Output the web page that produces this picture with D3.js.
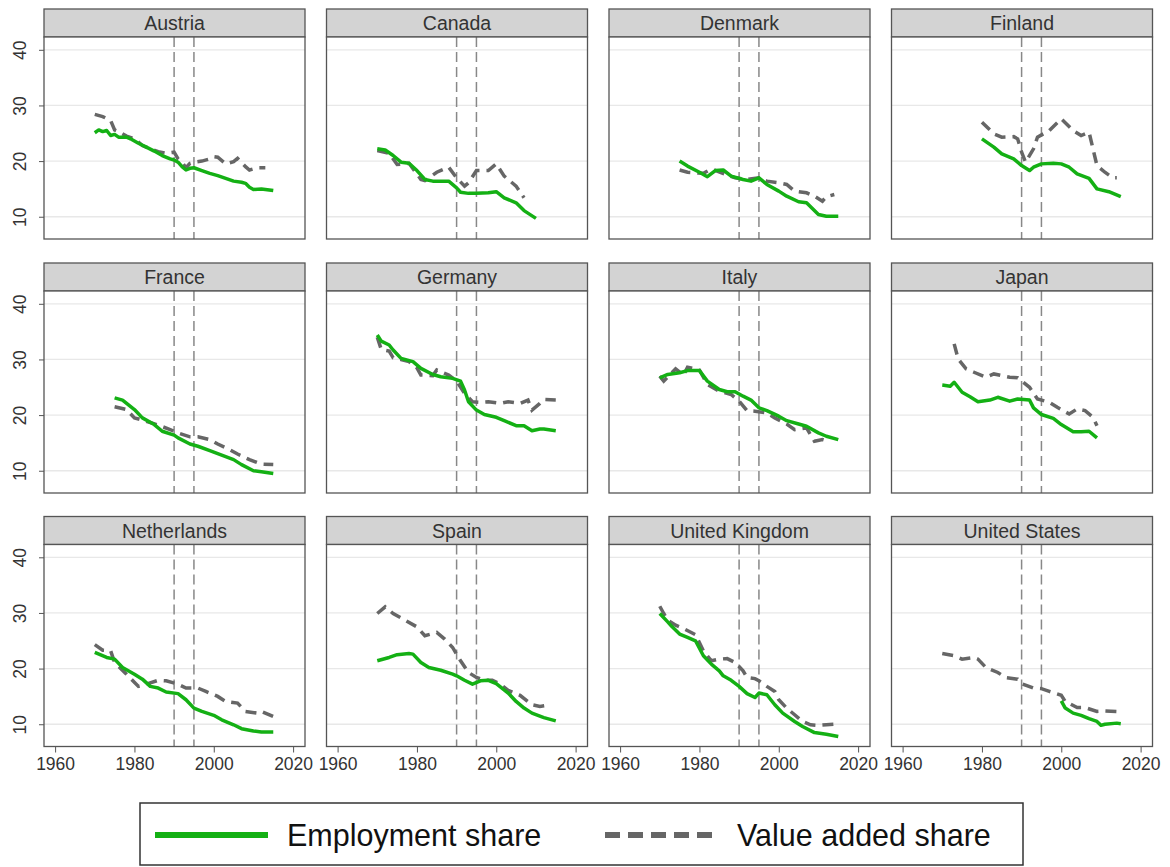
<!DOCTYPE html>
<html>
<head>
<meta charset="utf-8">
<script src="https://cdn.jsdelivr.net/npm/d3@7"></script>
<style>
  body { margin: 0; background: white; }
  text { font-family: "Liberation Sans", Arial, sans-serif; }
</style>
</head>
<body>
<div id="chart"></div>
<script>
var width = 1170,
    height = 867;

// country panels, in order
var countries = ["Austria", "Canada", "Denmark", "Finland", "France", "Germany", "Italy", "Japan",
                 "Netherlands", "Spain", "United Kingdom", "United States"];

var yTicks = [10, 20, 30, 40];
var xTicks = [1960, 1980, 2000, 2020];
var refYears = [1990, 1995];

// [year, share]
var austriaEmp = [[1970,25.1],[1971,25.6],[1972,25.3],[1973,25.5],[1974,24.6],[1975,24.8],[1976,24.3],[1978,24.3],[1979,24.0],[1981,23.2],[1983,22.5],[1985,21.8],[1987,21.0],[1989,20.4],[1990,20.2],[1991,19.8],[1992,19.0],[1993,18.4],[1994,18.7],[1995,18.8],[1997,18.3],[1999,17.8],[2001,17.4],[2003,16.9],[2005,16.4],[2007,16.2],[2008,16.0],[2009,15.3],[2010,14.9],[2012,15.0],[2014,14.8],[2015,14.7]];
var austriaVa = [[1970,28.4],[1972,28.0],[1974,27.3],[1975,25.6],[1976,25.3],[1978,24.5],[1980,24.0],[1982,22.8],[1984,22.2],[1986,21.7],[1988,21.4],[1990,21.6],[1991,20.4],[1992,19.8],[1993,18.8],[1994,19.6],[1995,19.8],[1997,20.0],[1999,20.4],[2000,20.8],[2001,20.7],[2003,19.5],[2005,19.9],[2006,20.5],[2008,19.0],[2009,18.4],[2011,18.8],[2013,18.8]];

var canadaEmp = [[1970,22.2],[1972,22.0],[1974,21.0],[1976,19.8],[1978,19.6],[1980,18.3],[1982,16.7],[1984,16.4],[1988,16.4],[1990,15.2],[1991,14.4],[1993,14.2],[1995,14.2],[1998,14.3],[2000,14.5],[2002,13.4],[2005,12.5],[2007,11.1],[2010,9.7]];
var canadaVa = [[1970,21.9],[1973,21.4],[1975,19.4],[1978,19.6],[1981,16.7],[1982,16.5],[1985,18.0],[1988,18.9],[1990,17.0],[1992,15.5],[1993,16.1],[1995,18.3],[1998,18.3],[2000,19.5],[2002,17.3],[2005,15.5],[2007,13.4]];

var denmarkEmp = [[1975,20.0],[1977,19.1],[1980,18.0],[1982,17.2],[1984,18.3],[1986,18.4],[1988,17.3],[1991,16.7],[1993,16.4],[1995,17.0],[1997,15.8],[2000,14.6],[2002,13.7],[2005,12.7],[2007,12.5],[2010,10.4],[2012,10.1],[2015,10.1]];
var denmarkVa = [[1975,18.4],[1977,18.0],[1981,17.8],[1983,18.6],[1987,17.5],[1989,17.0],[1992,16.7],[1995,17.0],[1997,16.4],[2000,16.1],[2002,15.8],[2004,14.6],[2007,14.3],[2009,13.7],[2011,12.8],[2012,13.6],[2014,14.0]];

var finlandEmp = [[1980,24.0],[1983,22.5],[1985,21.3],[1988,20.4],[1990,19.2],[1992,18.3],[1993,18.9],[1995,19.5],[1998,19.6],[2000,19.5],[2002,18.9],[2004,17.7],[2007,16.9],[2009,15.0],[2012,14.5],[2015,13.6]];
var finlandVa = [[1980,27.0],[1983,24.9],[1985,24.3],[1988,24.4],[1989,24.0],[1990,21.6],[1991,19.8],[1993,22.2],[1994,24.3],[1997,25.5],[2000,27.6],[2003,25.5],[2005,24.6],[2007,25.2],[2008,22.2],[2009,19.2],[2011,18.0],[2013,17.0],[2014,17.0]];

var franceEmp = [[1975,23.1],[1977,22.7],[1980,21.0],[1982,19.5],[1985,18.3],[1987,17.1],[1990,16.4],[1991,15.9],[1994,14.8],[1996,14.4],[1999,13.6],[2002,12.8],[2005,12.0],[2007,11.1],[2010,10.0],[2012,9.8],[2015,9.5]];
var franceVa = [[1975,21.5],[1978,21.0],[1980,19.5],[1983,18.9],[1986,18.2],[1989,17.4],[1991,16.8],[1994,16.1],[1996,16.1],[1999,15.6],[2001,14.8],[2004,13.8],[2006,13.0],[2009,12.0],[2012,11.2],[2015,11.1]];

var germanyEmp = [[1970,34.4],[1971,33.3],[1973,32.6],[1974,31.7],[1976,30.2],[1979,29.6],[1981,28.4],[1984,27.3],[1986,26.9],[1989,26.6],[1991,26.1],[1992,24.5],[1993,22.4],[1995,20.9],[1997,20.1],[2000,19.6],[2002,19.0],[2005,18.1],[2007,18.1],[2009,17.2],[2011,17.5],[2012,17.5],[2015,17.2]];
var germanyVa = [[1970,34.0],[1971,31.8],[1973,31.5],[1974,30.3],[1976,30.0],[1978,29.6],[1980,28.5],[1981,27.2],[1984,27.1],[1985,28.1],[1988,27.2],[1990,26.1],[1992,23.9],[1994,22.4],[1996,22.3],[1998,22.4],[2001,22.1],[2003,22.4],[2006,22.1],[2008,22.7],[2009,20.9],[2011,22.1],[2012,22.8],[2015,22.7]];

var italyEmp = [[1970,26.7],[1972,27.3],[1975,27.6],[1977,28.0],[1980,28.0],[1982,26.1],[1985,24.6],[1987,24.2],[1989,24.2],[1991,23.4],[1993,22.7],[1995,21.3],[1997,20.8],[2000,19.8],[2002,19.0],[2005,18.4],[2007,18.0],[2010,16.8],[2012,16.2],[2015,15.6]];
var italyVa = [[1970,27.0],[1971,26.1],[1974,28.3],[1976,27.2],[1977,28.6],[1980,28.1],[1982,25.5],[1985,24.3],[1988,23.7],[1990,22.5],[1992,20.8],[1994,20.7],[1997,20.4],[1999,19.5],[2002,18.4],[2004,17.4],[2007,17.7],[2009,15.3],[2011,15.6],[2012,15.4]];

var japanEmp = [[1970,25.4],[1972,25.2],[1973,25.9],[1975,24.1],[1977,23.3],[1979,22.4],[1982,22.7],[1984,23.2],[1987,22.5],[1989,22.9],[1992,22.7],[1993,21.3],[1995,20.1],[1998,19.4],[2000,18.3],[2003,17.0],[2005,17.0],[2007,17.1],[2009,15.9]];
var japanVa = [[1973,32.8],[1974,30.1],[1976,28.3],[1978,27.7],[1981,26.8],[1983,27.4],[1987,26.8],[1989,26.7],[1992,25.0],[1994,22.9],[1997,22.3],[1999,21.4],[2002,20.2],[2004,21.1],[2006,20.8],[2008,19.6],[2009,18.1]];

var netherlandsEmp = [[1970,22.9],[1973,22.0],[1975,21.7],[1977,20.2],[1980,19.0],[1982,18.1],[1984,16.8],[1986,16.5],[1988,15.8],[1991,15.5],[1993,14.4],[1995,12.9],[1997,12.3],[2000,11.6],[2002,10.8],[2005,9.9],[2007,9.2],[2010,8.8],[2012,8.6],[2015,8.6]];
var netherlandsVa = [[1970,24.3],[1972,23.3],[1974,23.2],[1975,21.1],[1978,19.0],[1981,16.8],[1983,17.2],[1986,17.9],[1988,17.8],[1991,17.2],[1993,16.5],[1996,16.5],[1998,15.9],[2001,15.0],[2003,14.1],[2006,13.8],[2008,12.3],[2011,12.0],[2012,12.3],[2015,11.4]];

var spainEmp = [[1970,21.4],[1973,22.0],[1975,22.5],[1978,22.7],[1979,22.6],[1981,21.1],[1983,20.2],[1986,19.7],[1989,19.0],[1990,18.7],[1992,17.9],[1994,17.2],[1996,17.8],[1998,17.9],[2000,17.3],[2003,15.6],[2005,14.1],[2007,12.9],[2009,12.0],[2012,11.2],[2015,10.6]];
var spainVa = [[1970,29.9],[1972,31.1],[1974,29.9],[1977,28.7],[1980,27.5],[1982,25.9],[1985,26.5],[1987,25.3],[1989,23.8],[1991,21.4],[1993,19.3],[1995,18.4],[1997,17.9],[1999,17.9],[2001,17.2],[2003,16.1],[2006,15.2],[2009,13.5],[2011,13.2],[2013,13.4]];

var ukEmp = [[1970,29.9],[1972,28.4],[1973,27.6],[1975,26.2],[1977,25.6],[1979,25.0],[1981,22.3],[1983,20.8],[1985,19.6],[1986,18.7],[1988,17.9],[1990,16.8],[1992,15.5],[1994,14.8],[1995,15.6],[1997,15.3],[1999,13.5],[2001,12.0],[2004,10.5],[2006,9.6],[2009,8.5],[2012,8.2],[2015,7.8]];
var ukVa = [[1970,31.2],[1971,29.9],[1972,28.7],[1974,27.8],[1976,27.2],[1979,26.1],[1981,23.2],[1983,21.4],[1985,21.7],[1987,21.8],[1989,21.1],[1991,19.6],[1992,18.4],[1994,18.2],[1995,17.8],[1997,16.8],[1999,15.9],[2000,14.4],[2002,12.9],[2004,11.7],[2006,10.5],[2008,9.9],[2010,9.8],[2012,9.9],[2014,10.0]];

var usEmp = [[2000,14.2],[2001,12.9],[2003,12.0],[2005,11.6],[2007,11.0],[2009,10.5],[2010,9.8],[2011,10.0],[2014,10.2],[2015,10.1]];
var usVa = [[1970,22.7],[1973,22.3],[1975,21.7],[1978,22.0],[1979,21.7],[1981,20.2],[1984,19.3],[1986,18.4],[1989,18.1],[1990,17.3],[1993,16.5],[1995,16.4],[1997,15.9],[2000,15.2],[2001,14.1],[2004,13.0],[2006,13.0],[2009,12.3],[2011,12.4],[2014,12.3],[2015,12.1]];

var empSeries = [austriaEmp, canadaEmp, denmarkEmp, finlandEmp, franceEmp, germanyEmp, italyEmp, japanEmp,
                 netherlandsEmp, spainEmp, ukEmp, usEmp];
var vaSeries = [austriaVa, canadaVa, denmarkVa, finlandVa, franceVa, germanyVa, italyVa, japanVa,
                netherlandsVa, spainVa, ukVa, usVa];

var legendLabels = ["Employment share", "Value added share"];

// layout
var colLeft = [44, 326.5, 609, 891.5],
    rowTop = [9, 263, 516.5],
    panelW = 261,
    stripH = 28,
    plotH = 202;

var green = "#14b014",
    grey = "#666";

var svg = d3.select("#chart").append("svg")
    .attr("width", width)
    .attr("height", height);

var xScale = d3.scaleLinear().domain([1957.2, 2023]).range([0, panelW]);
var yScale = d3.scaleLinear().domain([6, 42.3]).range([plotH, 0]);

var line = d3.line()
    .x(function(d) { return xScale(d[0]); })
    .y(function(d) { return yScale(d[1]); });

countries.forEach(function(name, i) {
    var col = i % 4,
        row = Math.floor(i / 4);

    var panel = svg.append("g")
        .attr("transform", "translate(" + colLeft[col] + "," + rowTop[row] + ")");

    // strip with country name
    panel.append("rect")
        .attr("x", 0).attr("y", 0)
        .attr("width", panelW).attr("height", stripH)
        .attr("fill", "#d3d3d3")
        .attr("stroke", "#555").attr("stroke-width", 1.3);
    panel.append("text")
        .attr("x", panelW / 2).attr("y", stripH / 2 + 7)
        .attr("text-anchor", "middle")
        .attr("font-size", 19.5)
        .attr("fill", "#333")
        .text(name);

    var plot = panel.append("g")
        .attr("transform", "translate(0," + stripH + ")");

    plot.append("rect")
        .attr("width", panelW).attr("height", plotH)
        .attr("fill", "white");

    plot.selectAll(".grid").data(yTicks).enter()
        .append("line").attr("class", "grid")
        .attr("x1", 0).attr("x2", panelW)
        .attr("y1", function(d) { return yScale(d); })
        .attr("y2", function(d) { return yScale(d); })
        .attr("stroke", "#e8e8e8").attr("stroke-width", 1.3);

    plot.selectAll(".ref").data(refYears).enter()
        .append("line").attr("class", "ref")
        .attr("x1", function(d) { return xScale(d); })
        .attr("x2", function(d) { return xScale(d); })
        .attr("y1", 0).attr("y2", plotH)
        .attr("stroke", "#888").attr("stroke-width", 1.5)
        .attr("stroke-dasharray", "10,5");

    plot.append("path")
        .datum(vaSeries[i])
        .attr("d", line)
        .attr("fill", "none")
        .attr("stroke", grey).attr("stroke-width", 3.5)
        .attr("stroke-dasharray", "11,7");

    plot.append("path")
        .datum(empSeries[i])
        .attr("d", line)
        .attr("fill", "none")
        .attr("stroke", green).attr("stroke-width", 3.5)
        .attr("stroke-linejoin", "round");

    plot.append("rect")
        .attr("width", panelW).attr("height", plotH)
        .attr("fill", "none")
        .attr("stroke", "#555").attr("stroke-width", 1.3);

    // y axis on first column, labels turned on their side
    if (col == 0) {
        var yAxis = d3.axisLeft(yScale).tickValues(yTicks).tickSize(5);
        var ya = plot.append("g").call(yAxis);
        ya.select(".domain").remove();
        ya.selectAll("line").attr("stroke", "#555");
        ya.selectAll("text")
            .attr("font-size", 17.5).attr("fill", "#333")
            .attr("text-anchor", "middle")
            .attr("transform", "rotate(-90)")
            .attr("x", 0)
            .attr("y", -24)
            .attr("dy", "0.35em");
    }

    // x axis on bottom row
    if (row == 2) {
        var xAxis = d3.axisBottom(xScale).tickValues(xTicks).tickFormat(d3.format("d")).tickSize(6).tickPadding(5);
        var xa = plot.append("g")
            .attr("transform", "translate(0," + plotH + ")")
            .call(xAxis);
        xa.select(".domain").remove();
        xa.selectAll("line").attr("stroke", "#555");
        xa.selectAll("text").attr("font-size", 17.5).attr("fill", "#333");
    }
});

// legend
var legend = svg.append("g").attr("transform", "translate(140,803)");
legend.append("rect")
    .attr("width", 883).attr("height", 62)
    .attr("fill", "white")
    .attr("stroke", "#333").attr("stroke-width", 1.5);

var legendKeys = [
    {x: 15, color: green, dash: null, label: legendLabels[0]},
    {x: 465, color: grey, dash: "15,8", label: legendLabels[1]}
];
legendKeys.forEach(function(k) {
    legend.append("line")
        .attr("x1", k.x).attr("x2", k.x + 113)
        .attr("y1", 32).attr("y2", 32)
        .attr("stroke", k.color).attr("stroke-width", 6)
        .attr("stroke-dasharray", k.dash);
    legend.append("text")
        .attr("x", k.x + 132).attr("y", 43)
        .attr("font-size", 30.5)
        .attr("fill", "#111")
        .text(k.label);
});
</script>
</body>
</html>
